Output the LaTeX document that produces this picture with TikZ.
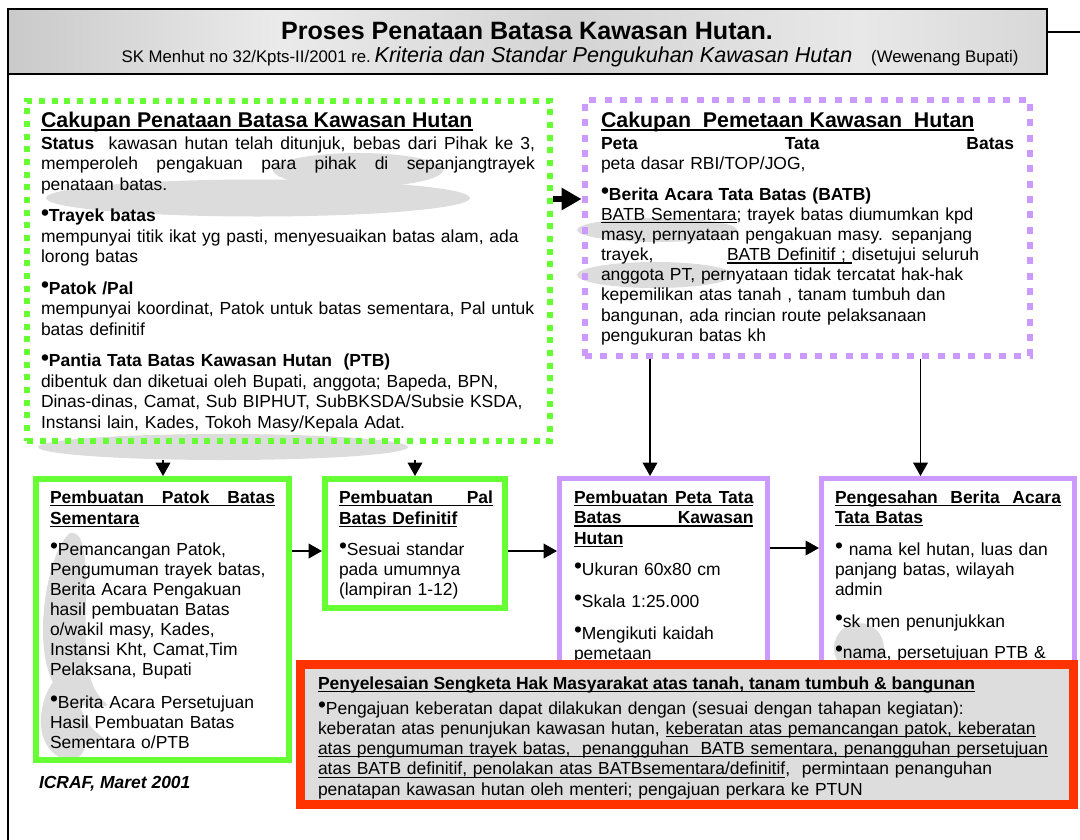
\documentclass[tikz,border=0pt]{standalone}
\usepackage{fontspec}
\setmainfont{Liberation Sans}
\usetikzlibrary{arrows.meta,fit}
\definecolor{lgreen}{HTML}{66FF33}
\definecolor{lpurple}{HTML}{CC99FF}
\definecolor{lred}{HTML}{FF3300}
\definecolor{blobgray}{HTML}{DCDCDC}
\definecolor{boxgray}{HTML}{DDDDDD}
\pgfdeclarehorizontalshading{marble}{100bp}{color(0bp)=(black!20); color(12bp)=(black!9); color(25bp)=(black!21); color(38bp)=(black!8); color(52bp)=(black!17); color(66bp)=(black!9); color(80bp)=(black!19); color(92bp)=(black!8); color(100bp)=(black!16)}
\newsavebox\ulbox
\newcommand\ul[1]{\leavevmode\sbox\ulbox{#1}\rlap{\rule[-2.2pt]{\wd\ulbox}{0.9pt}}\usebox\ulbox}
\newcommand\ulb[1]{\leavevmode\sbox\ulbox{#1}\rlap{\rule[-2.4pt]{\wd\ulbox}{1.1pt}}\usebox\ulbox}
\newcommand\ulh[1]{\leavevmode\sbox\ulbox{#1}\rlap{\rule[-3pt]{\wd\ulbox}{1.4pt}}\usebox\ulbox}
\newcommand\jl[2]{\makebox[#1][s]{\spaceskip=0pt\relax\xspaceskip=0pt\relax #2}}
\newcommand\bul{\raisebox{0.15ex}{\fontsize{17}{17}\selectfont\textbullet}}
\newcommand\bodyf[1]{\fontsize{13.1}{#1}\selectfont}
\begin{document}
\begin{tikzpicture}[x=0.75pt,y=-0.75pt,
  txt/.style={anchor=base west, inner sep=0pt, outer sep=0pt, align=left},
  gdotted/.style={draw=lgreen, line width=4.5pt, dash pattern=on 4.6pt off 4.9pt, inner sep=0pt},
  pdotted/.style={draw=lpurple, line width=5.2pt, dash pattern=on 5.2pt off 6.3pt, inner sep=0pt},
  gsolid/.style={draw=lgreen, line width=4.5pt, inner sep=0pt},
  psolid/.style={draw=lpurple, line width=3.8pt, inner sep=0pt},
  arr/.style={-{Triangle[length=10pt,width=11pt]}, line width=1.1pt},
  bigarr/.style={-{Triangle[length=15pt,width=16pt]}, line width=5pt},
  blob/.style={fill=blobgray}
]
\useasboundingbox (0,0) rectangle (1080,839);
% outer frame
\draw[line width=1.2pt] (1080,32) -| (8,845);
% banner
\node[fit={(8,9) (1047,74)}, inner sep=0pt, draw, line width=1.6pt, shade, shading=marble] (banner) {};
\node[anchor=base, inner sep=0pt, font=\bfseries\fontsize{18.8}{22}\selectfont] (title) at (527,39) {Proses Penataan Batasa Kawasan Hutan.};
\node[anchor=base, inner sep=0pt] (sub) at (570,62) {{\fontsize{12.6}{15}\selectfont SK Menhut no 32/Kpts-II/2001 re.}\ {\fontsize{16.2}{19}\selectfont\itshape Kriteria dan Standar Pengukuhan Kawasan Hutan}\hspace{14pt}{\fontsize{12.6}{15}\selectfont (Wewenang Bupati)}};

% decorative blobs
\fill[blob] (358,170) ellipse [x radius=85, y radius=17];
\fill[blob] (258,198) ellipse [x radius=212, y radius=18.5];
\fill[blob] (223,447) ellipse [x radius=185, y radius=13];
\fill[blob] (657,230) ellipse [x radius=80, y radius=12];
\fill[blob] (655,275) ellipse [x radius=78, y radius=13];
\fill[blob] (859,648) circle [radius=25];
\fill[blob] (70,533) .. controls (55,545) and (43,590) .. (43,630) .. controls (43,665) and (52,690) .. (68,700) .. controls (80,705) and (95,710) .. (108,705) .. controls (95,695) and (88,680) .. (86,650) .. controls (84,610) and (90,560) .. (80,538) .. controls (77,534) and (74,532) .. (70,533) -- cycle;
\fill[blob] (62,673) .. controls (48,683) and (40,705) .. (41,725) .. controls (42,745) and (55,760) .. (72,760) .. controls (80,758) and (85,752) .. (85,745) .. controls (92,745) and (100,742) .. (104,738) .. controls (90,730) and (82,715) .. (78,700) .. controls (75,688) and (70,676) .. (62,673) -- cycle;

% boxes
\node[gdotted, fit={(27,101) (550,441)}] (gd) {};
\node[pdotted, fit={(585,100) (1030,356)}] (pd) {};
\node[gsolid, fit={(36,479) (289,760)}] (b1) {};
\node[gsolid, fit={(325,479) (505,608)}] (b2) {};
\node[psolid, fit={(559.5,478.5) (767.5,700)}] (b3) {};
\node[psolid, fit={(821.5,478.5) (1074.5,700)}] (b4) {};

% arrows
\coordinate (a1) at (163,460);
\coordinate (a2) at (415,460);
\coordinate (h1) at (0,551);
\coordinate (h3) at (0,548);
\coordinate (hb) at (0,199);
\coordinate (v3) at (650,0);
\coordinate (v4) at (920.5,0);
\draw[bigarr] (gd.east |- hb) -- (pd.west |- hb);
\draw[arr] (a1) -- (a1 |- b1.north);
\draw[arr] (a2) -- (a2 |- b2.north);
\draw[arr] (b1.east |- h1) -- (b2.west |- h1);
\draw[arr] (b2.east |- h1) -- (b3.west |- h1);
\draw[arr] (b3.east |- h3) -- (b4.west |- h3);
\draw[arr] (pd.south -| v3) -- (b3.north -| v3);
\draw[arr] (pd.south -| v4) -- (b4.north -| v4);

% green dotted box text
\node[txt, font=\bfseries\fontsize{16}{19}\selectfont] (gh) at (41,127) {\ulh{Cakupan Penataan Batasa Kawasan Hutan}};
\node[txt, text width=420pt, font=\bodyf{15.375pt}] (gt) at (41,149) {%
\jl{370.5pt}{\textbf{Status}\ \ kawasan hutan telah ditunjuk, bebas dari Pihak ke 3,}\\
\jl{370.5pt}{memperoleh pengakuan para pihak di sepanjangtrayek}\\
penataan batas.\\[8.25pt]
\textbf{\bul Trayek batas}\\
mempunyai titik ikat yg pasti, menyesuaikan batas alam, ada\\
lorong batas\\[8.25pt]
\textbf{\bul Patok /Pal}\\
mempunyai koordinat, Patok untuk batas sementara, Pal untuk\\
batas definitif\\[8.25pt]
\textbf{\bul Pantia Tata Batas Kawasan Hutan\ \ (PTB)}\\
dibentuk dan diketuai oleh Bupati, anggota; Bapeda, BPN,\\
Dinas-dinas, Camat, Sub BIPHUT, SubBKSDA/Subsie KSDA,\\
Instansi lain, Kades, Tokoh Masy/Kepala Adat.};

% purple dotted box text
\node[txt, font=\bfseries\fontsize{16}{19}\selectfont] (ph) at (601,127) {\ulh{Cakupan\ \ Pemetaan Kawasan\ \ Hutan}};
\node[txt, text width=360pt, font=\bodyf{15.1pt}] (pt) at (601,149) {%
\jl{309.75pt}{\textbf{Peta Tata Batas}}\\
peta dasar RBI/TOP/JOG,\\[8.25pt]
\textbf{\bul Berita Acara Tata Batas (BATB)}\\
\ul{BATB Sementara}; trayek batas diumumkan kpd\\
masy, pernyataan pengakuan masy. sepanjang\\
\makebox[94.5pt][l]{trayek,}\ul{BATB Definitif ; }disetujui seluruh\\
anggota PT, pernyataan tidak tercatat hak-hak\\
kepemilikan atas tanah , tanam tumbuh dan\\
bangunan, ada rincian route pelaksanaan\\
pengukuran batas kh};

% box 1
\node[txt, text width=220pt, font=\bfseries\bodyf{15.75pt}] (b1h) at (50,503) {\ulb{\jl{168.75pt}{Pembuatan Patok Batas}}\\ \ulb{Sementara}};
\node[txt, text width=220pt, font=\bodyf{15pt}] (b1t) at (50,555) {%
\bul Pemancangan Patok,\\
Pengumuman trayek batas,\\
Berita Acara Pengakuan\\
hasil pembuatan Batas\\
o/wakil masy, Kades,\\
Instansi Kht, Camat,Tim\\
Pelaksana, Bupati\\[9.75pt]
\bul Berita Acara Persetujuan\\
Hasil Pembuatan Batas\\
Sementara o/PTB};

% box 2
\node[txt, text width=160pt, font=\bfseries\bodyf{15.75pt}] (b2h) at (339,503) {\ulb{\jl{115.5pt}{Pembuatan Pal}}\\ \ulb{Batas Definitif}};
\node[txt, text width=160pt, font=\bodyf{15pt}] (b2t) at (339,555) {%
\bul Sesuai standar\\
pada umumnya\\
(lampiran 1-12)};

% box 3
\node[txt, text width=180pt, font=\bfseries\bodyf{15.375pt}] (b3h) at (574,503) {\ulb{\jl{134.6pt}{Pembuatan Peta Tata}}\\ \ulb{\jl{134.6pt}{Batas Kawasan}}\\ \ulb{Hutan}};
\node[txt, text width=180pt, font=\bodyf{15pt}] (b3t) at (574,575) {%
\bul Ukuran 60x80 cm\\[9pt]
\bul Skala 1:25.000\\[9pt]
\bul Mengikuti kaidah\\
pemetaan};

% box 4
\node[txt, text width=220pt, font=\bfseries\bodyf{15pt}] (b4h) at (835,503) {\ulb{\jl{169.5pt}{Pengesahan Berita Acara}}\\ \ulb{Tata Batas}};
\node[txt, text width=220pt, font=\bodyf{15pt}] (b4t) at (835,555) {%
\bul\ nama kel hutan, luas dan\\
panjang batas, wilayah\\
admin\\[9pt]
\bul sk men penunjukkan\\[8.25pt]
\bul nama, persetujuan PTB \&};

\node[txt, font=\bfseries\itshape\bodyf{15pt}] (icraf) at (39,788) {ICRAF, Maret 2001};

% red box
\node[draw=lred, line width=6.8pt, fill=boxgray, fit={(300.5,664.5) (1073.5,804.5)}, inner sep=0pt] (red) {};
\node[txt, font=\bfseries\bodyf{15pt}] (rh) at (318,689) {\ulb{Penyelesaian Sengketa Hak Masyarakat atas tanah, tanam tumbuh \& bangunan}};
\node[txt, text width=600pt, font=\bodyf{15.2pt}] (rt) at (318,714) {%
\bul Pengajuan keberatan dapat dilakukan dengan (sesuai dengan tahapan kegiatan):\\
keberatan atas penunjukan kawasan hutan, \ul{keberatan atas pemancangan patok, keberatan}\\
\ul{atas pengumuman trayek batas,\ \ penangguhan\ \ BATB sementara, penangguhan persetujuan}\\
\ul{atas BATB definitif, penolakan atas BATBsementara/definitif},\ \ permintaan penanguhan\\
penatapan kawasan hutan oleh menteri; pengajuan perkara ke PTUN};
\end{tikzpicture}
\end{document}
